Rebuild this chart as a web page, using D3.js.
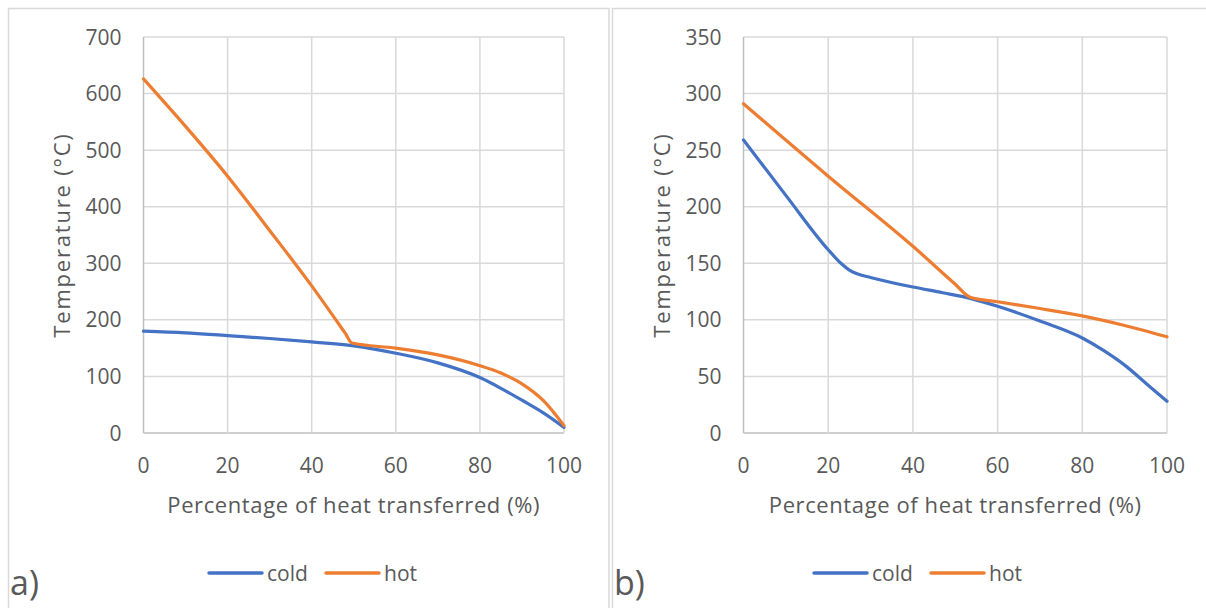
<!DOCTYPE html>
<html>
<head>
<meta charset="utf-8">
<script src="https://cdn.jsdelivr.net/npm/d3@7"></script>
<style>
  body { margin: 0; background: #fff; }
  text { font-family: "Open Sans", sans-serif; fill: #595959; }
</style>
</head>
<body>
<svg width="1206" height="608"></svg>
<script>
// values: [% heat transferred, temperature °C]
const aCold = [[0, 180], [10, 177], [20, 172], [30, 167], [40, 161], [50, 154], [60, 141],
  [70, 124], [80, 98], [85, 79], [90, 58], [95, 36], [100, 10]];
const aHot = [[0, 626], [10, 542], [20, 454], [30, 358], [40, 260], [48, 176], [49.6, 159],
  [60, 150], [70, 138], [80, 119], [85, 106], [90, 87], [95, 58], [100, 13]];
const bCold = [[0, 259], [10, 210], [20, 162], [23, 150], [25, 144], [27, 140.5], [30, 137.5],
  [40, 129], [47, 124], [53.5, 119], [60, 112], [70, 99], [80, 84], [85, 73], [90, 60], [95, 44], [100, 28]];
const bHot = [[0, 291], [20, 227], [40, 165], [50, 131.5], [53.5, 120], [60, 116], [70, 110],
  [80, 103.5], [90, 95], [100, 85]];

const xTicks = [0, 20, 40, 60, 80, 100];
const aYTicks = [0, 100, 200, 300, 400, 500, 600, 700];
const bYTicks = [0, 50, 100, 150, 200, 250, 300, 350];
const seriesNames = ["cold", "hot"];
const panelLabels = ["a)", "b)"];
const xTitle = "Percentage of heat transferred (%)";
const yTitle = "Temperature (°C)";

const colors = { cold: "#4472C4", hot: "#ED7D31" };

const svg = d3.select("svg");

const drawPanel = (p) => {
  const g = svg.append("g");

  // panel frame
  g.append("rect")
    .attr("x", p.frameX + 0.5)
    .attr("y", 8.5)
    .attr("width", p.frameW)
    .attr("height", 640)
    .attr("fill", "#fff")
    .attr("stroke", "#d9d9d9")
    .attr("stroke-width", 1.5);

  const x = d3.scaleLinear().domain([0, 100]).range([p.left, p.right]);
  const y = d3.scaleLinear().domain([0, d3.max(p.yTicks)]).range([433, 37]);

  // gridlines
  g.selectAll(".hgrid")
    .data(p.yTicks)
    .enter()
    .append("line")
    .attr("x1", p.left)
    .attr("x2", p.right)
    .attr("y1", d => y(d))
    .attr("y2", d => y(d))
    .attr("stroke", d => (d === 0 ? "#bfbfbf" : "#d9d9d9"))
    .attr("stroke-width", 1.5);

  g.selectAll(".vgrid")
    .data(xTicks)
    .enter()
    .append("line")
    .attr("x1", d => x(d))
    .attr("x2", d => x(d))
    .attr("y1", y.range()[1])
    .attr("y2", y.range()[0])
    .attr("stroke", d => (d === 0 ? "#bfbfbf" : "#d9d9d9"))
    .attr("stroke-width", 1.5);

  // tick labels
  g.selectAll(".ylab")
    .data(p.yTicks)
    .enter()
    .append("text")
    .attr("x", p.left - 22)
    .attr("y", d => y(d))
    .attr("dy", "0.36em")
    .attr("text-anchor", "end")
    .style("font-size", "21px")
    .text(d => d);

  g.selectAll(".xlab")
    .data(xTicks)
    .enter()
    .append("text")
    .attr("x", d => x(d))
    .attr("y", 473)
    .attr("text-anchor", "middle")
    .style("font-size", "21px")
    .text(d => d);

  // axis titles
  g.append("text")
    .attr("x", (p.left + p.right) / 2)
    .attr("y", 513)
    .attr("text-anchor", "middle")
    .style("font-size", "22px")
    .style("letter-spacing", "0.6px")
    .text(xTitle);

  g.append("text")
    .attr("transform", `translate(${p.left - 74},${(433 + 37) / 2}) rotate(-90)`)
    .attr("text-anchor", "middle")
    .style("font-size", "22px")
    .style("letter-spacing", "1.8px")
    .text(yTitle);

  // series
  const line = d3.line()
    .x(d => x(d[0]))
    .y(d => y(d[1]))
    .curve(d3.curveMonotoneX);

  g.selectAll(".series")
    .data(p.series)
    .enter()
    .append("path")
    .attr("d", d => line(d.values))
    .attr("fill", "none")
    .attr("stroke", d => colors[d.name])
    .attr("stroke-width", 3.2)
    .attr("stroke-linejoin", "round")
    .attr("stroke-linecap", "round");

  // legend
  const leg = g.selectAll(".legend")
    .data(seriesNames)
    .enter()
    .append("g")
    .attr("transform", (d, i) => `translate(${p.legendX + i * 117},573)`);

  leg.append("line")
    .attr("x1", 0)
    .attr("x2", 53)
    .attr("stroke", d => colors[d])
    .attr("stroke-width", 3.5)
    .attr("stroke-linecap", "round");

  leg.append("text")
    .attr("x", 58)
    .attr("y", 7.5)
    .style("font-size", "21px")
    .text(d => d);

  // panel label
  g.append("text")
    .attr("x", p.frameX + 2)
    .attr("y", 595)
    .style("font-size", "34px")
    .text(p.label);
};

drawPanel({
  frameX: 8, frameW: 600.5, left: 143.5, right: 564, yTicks: aYTicks,
  series: [{ name: "cold", values: aCold }, { name: "hot", values: aHot }],
  legendX: 209, label: panelLabels[0]
});

drawPanel({
  frameX: 612, frameW: 640, left: 743.5, right: 1167, yTicks: bYTicks,
  series: [{ name: "cold", values: bCold }, { name: "hot", values: bHot }],
  legendX: 814, label: panelLabels[1]
});
</script>
</body>
</html>
